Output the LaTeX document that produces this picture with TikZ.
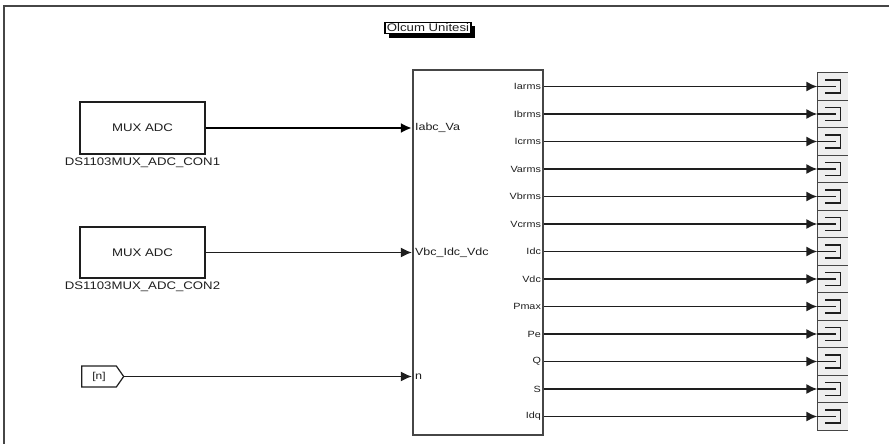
\documentclass[tikz,border=0pt]{standalone}
\usepackage{fontspec}
\setmainfont{Liberation Sans}[FakeStretch=1.2]
\usetikzlibrary{arrows.meta,positioning,shapes.symbols,shadows}
\definecolor{SimInk}{RGB}{30,30,30}
\definecolor{SimLine}{RGB}{70,70,70}
\definecolor{SimTerm}{RGB}{238,238,238}
\tikzset{
  sim/block/.style={
    draw=SimInk,
    line width=1.4pt,
    fill=white,
    align=center,
    text=SimInk,
    font=\fontsize{11}{13}\selectfont
  },
  sim/sub/.style={
    draw=SimLine,
    line width=2.2pt,
    fill=white,
    minimum width=130pt,
    minimum height=365pt
  },
  sim/title/.style={
    draw=black,
    line width=1.3pt,
    fill=white,
    inner xsep=2pt,
    inner ysep=1.5pt,
    text=SimInk,
    font=\fontsize{11}{13}\selectfont,
    drop shadow={shadow xshift=4pt,shadow yshift=-4pt,fill=black,opacity=1}
  },
  sim/name/.style={font=\fontsize{11}{13}\selectfont, text=SimInk},
  sim/inport/.style={font=\fontsize{10.4}{12}\selectfont, text=SimInk, anchor=west, inner sep=1pt, xshift=2pt},
  sim/outport/.style={font=\fontsize{9}{10}\selectfont, text=SimInk, anchor=east, inner sep=1pt, xshift=-2pt},
  sim/goto/.style={
    signal, signal to=east, signal pointer angle=110,
    draw=SimInk, line width=1.2pt, fill=white,
    minimum width=42pt, minimum height=21pt, inner sep=1pt,
    text=SimInk, font=\fontsize{10}{12}\selectfont
  },
  sim/term/.style={
    draw=none, fill=SimTerm,
    minimum width=30pt, minimum height=27.5pt, inner sep=0pt
  },
  sim/wire/.style={-{Latex[length=11pt,width=10pt]}, line width=1.5pt, draw=SimInk},
  sim/bus/.style={-{Latex[length=11pt,width=10pt]}, line width=2.6pt, draw=black}
}

\begin{document}
\begin{tikzpicture}[x=1pt,y=-1pt]
  \useasboundingbox (0,0) rectangle (889,444);
  % model frame
  \draw[SimLine, line width=1.5pt] (4,444) -- (4,6) -- (889,6);

  \node[sim/title] (title) at (428,28) {Olcum Unitesi};

  % sources
  \node[sim/block, minimum width=125pt, minimum height=52pt] (mux1) at (142.5,128) {MUX ADC};
  \node[sim/name, below=0pt of mux1] (mux1name) {DS1103MUX\_ADC\_CON1};
  \node[sim/block, minimum width=125pt, minimum height=51pt] (mux2) at (142.5,252.5) {MUX ADC};
  \node[sim/name, below=0pt of mux2] (mux2name) {DS1103MUX\_ADC\_CON2};
  \node[sim/goto] (gotoN) at (99,376.5) {[n]};

  % measurement subsystem
  \node[sim/sub] (olcum) at (478,252.5) {};
  \node[sim/inport] (inA) at (olcum.west |- mux1.east) {Iabc\_Va};
  \node[sim/inport] (inB) at (olcum.west |- mux2.east) {Vbc\_Idc\_Vdc};
  \node[sim/inport] (inN) at (olcum.west |- gotoN.east) {n};

  \draw[sim/bus] (mux1.east) -- (olcum.west |- inA);
  \draw[sim/wire] (mux2.east) -- (olcum.west |- inB);
  \draw[sim/wire] (gotoN.east) -- (olcum.west |- inN);

  % outputs into terminators
  \foreach \lbl [count=\i] in {Iarms,Ibrms,Icrms,Varms,Vbrms,Vcrms,Idc,Vdc,Pmax,Pe,Q,S,Idq}{
    \node[sim/term] (t\i) at (832.5,{86.5+(\i-1)*27.5}) {};
    \draw[SimLine, line width=1pt] (t\i.north east) -- (t\i.north west) -- (t\i.south west) -- (t\i.south east);
    \node[sim/outport] (o\i) at (olcum.east |- t\i.west) {\lbl};
    \draw[SimInk, line width=1.2pt] (t\i.west) -- ++(19,0);
    \draw[SimInk, line width=1.2pt] ([xshift=8pt,yshift=6.5pt]t\i.west) -| ([xshift=23pt,yshift=-6.5pt]t\i.west) -- ([xshift=8pt,yshift=-6.5pt]t\i.west);
    \draw[sim/wire] (olcum.east |- o\i) -- (t\i.west);
  }
\end{tikzpicture}
\end{document}
